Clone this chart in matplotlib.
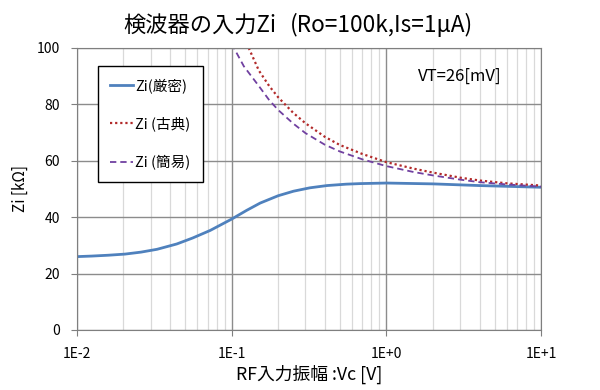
import numpy as np
import matplotlib
matplotlib.use('Agg')
import matplotlib.pyplot as plt
from matplotlib.ticker import FixedLocator, NullFormatter

plt.rcParams['font.family'] = ['Noto Sans CJK JP', 'DejaVu Sans']

# 読み取ったデータ (Vc [V], Zi [kΩ])
vc_strict = [0.01, 0.0125, 0.016, 0.0205, 0.026, 0.033, 0.0443, 0.056, 0.0728, 0.1, 0.125,
             0.153, 0.2, 0.251, 0.32, 0.413, 0.55, 0.678, 1.0, 2.0, 4.0, 10.0]
zi_strict = [26.0, 26.2, 26.5, 26.9, 27.6, 28.6, 30.5, 32.6, 35.3, 39.3, 42.4,
             45.0, 47.6, 49.2, 50.4, 51.2, 51.7, 51.9, 52.1, 51.8, 51.2, 50.6]

vc_classic = [0.118, 0.129, 0.15, 0.175, 0.2, 0.25, 0.3, 0.4, 0.5, 0.7, 1.0, 1.5, 2.0, 3.0, 4.0, 6.0, 10.0]
zi_classic = [105.0, 100.0, 92.0, 86.5, 82.5, 77.0, 73.3, 68.5, 65.6, 62.4, 59.5, 57.2, 55.8, 54.0, 53.0, 52.0, 51.2]

vc_simple = [0.095, 0.1035, 0.12, 0.15, 0.175, 0.2, 0.25, 0.3, 0.4, 0.5, 0.7, 1.0, 1.5, 2.0, 3.0, 4.0, 6.0, 10.0]
zi_simple = [105.0, 100.0, 93.5, 86.5, 81.5, 78.0, 73.2, 69.8, 65.7, 63.3, 60.5, 58.1, 56.0, 54.8, 53.3, 52.4, 51.6, 50.8]

xticks = [0.01, 0.1, 1, 10]
xtick_labels = ['1E-2', '1E-1', '1E+0', '1E+1']
yticks = [0, 20, 40, 60, 80, 100]

fig = plt.figure(figsize=(6, 3.9), dpi=100)
ax = fig.add_axes([0.128, 0.154, 0.774, 0.723])

ax.plot(vc_strict, zi_strict, color='#4F81BD', lw=2.0, label='Zi(厳密)')
ax.plot(vc_classic, zi_classic, color='#B22A2A', lw=1.6, ls=(0, (1, 1.3)), label='Zi (古典)')
ax.plot(vc_simple, zi_simple, color='#7040A0', lw=1.3, ls=(0, (3.5, 2.2)), label='Zi (簡易)')

ax.set_xscale('log')
ax.set_xlim(0.01, 10)
ax.set_ylim(0, 100)
ax.set_xticks(xticks)
ax.set_xticklabels(xtick_labels)
minors = [m * 10.0 ** e for e in range(-2, 1) for m in range(2, 10)]
ax.xaxis.set_minor_locator(FixedLocator(minors))
ax.xaxis.set_minor_formatter(NullFormatter())
ax.set_yticks(yticks)

ax.grid(which='major', color='#8c8c8c', lw=1.0)
ax.grid(which='minor', axis='x', color='#d9d9d9', lw=0.9)
ax.set_axisbelow(True)
for s in ax.spines.values():
    s.set_color('#7f7f7f')
ax.tick_params(which='major', length=4, color='#7f7f7f', labelsize=10, pad=8)
ax.tick_params(which='minor', length=0)

ax.set_xlabel('RF入力振幅 :Vc [V]', fontsize=12.8, labelpad=3)
ax.set_ylabel('Zi [kΩ]', fontsize=11, labelpad=6)

leg = ax.legend(loc='upper left', bbox_to_anchor=(0.045, 0.936), fontsize=10.5,
                handlelength=1.6, handletextpad=0.1, labelspacing=1.6,
                borderpad=0.85, borderaxespad=0, fancybox=False, framealpha=1)
leg.get_frame().set_edgecolor('black')
leg.get_frame().set_linewidth(1.0)

ax.text(0.735, 0.9, 'VT=26[mV]', transform=ax.transAxes, fontsize=12, va='center')

fig.text(0.205, 0.935, '検波器の入力Zi', fontsize=16, va='center')
fig.text(0.483, 0.935, '(Ro=100k,Is=1μA)', fontsize=16.3, va='center')

fig.savefig('out.png', dpi=100)
